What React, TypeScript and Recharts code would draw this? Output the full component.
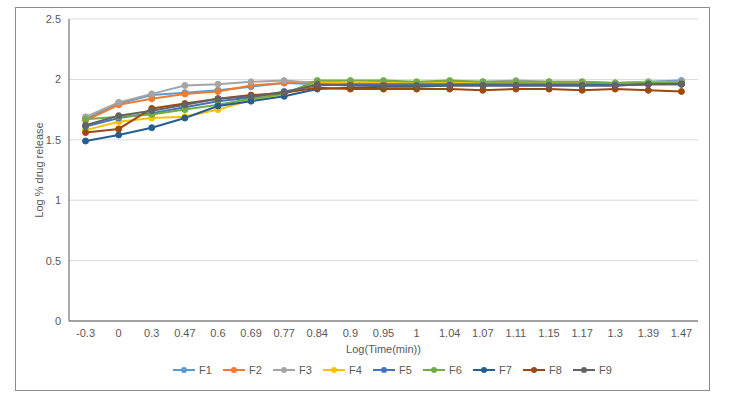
import React from "react";
import {
  LineChart,
  Line,
  XAxis,
  YAxis,
  CartesianGrid,
  Legend,
  Label,
} from "recharts";

const logTime = ["-0.3", "0", "0.3", "0.47", "0.6", "0.69", "0.77", "0.84", "0.9", "0.95", "1", "1.04", "1.07", "1.11", "1.15", "1.17", "1.3", "1.39", "1.47"];

const f1 = [1.67, 1.80, 1.87, 1.89, 1.91, 1.94, 1.97, 1.96, 1.96, 1.96, 1.96, 1.97, 1.97, 1.97, 1.97, 1.97, 1.97, 1.98, 1.99];
const f2 = [1.66, 1.79, 1.84, 1.88, 1.90, 1.95, 1.97, 1.98, 1.97, 1.97, 1.96, 1.97, 1.97, 1.97, 1.97, 1.97, 1.97, 1.97, 1.97];
const f3 = [1.69, 1.81, 1.88, 1.95, 1.96, 1.98, 1.99, 1.97, 1.97, 1.98, 1.97, 1.98, 1.98, 1.99, 1.98, 1.98, 1.97, 1.98, 1.98];
const f4 = [1.58, 1.65, 1.68, 1.69, 1.75, 1.83, 1.88, 1.98, 1.97, 1.97, 1.97, 1.97, 1.97, 1.97, 1.97, 1.97, 1.97, 1.97, 1.97];
const f5 = [1.61, 1.68, 1.72, 1.77, 1.82, 1.85, 1.90, 1.95, 1.96, 1.96, 1.96, 1.96, 1.96, 1.96, 1.96, 1.96, 1.96, 1.96, 1.97];
const f6 = [1.67, 1.69, 1.71, 1.75, 1.79, 1.84, 1.88, 1.99, 1.99, 1.99, 1.98, 1.99, 1.98, 1.98, 1.98, 1.98, 1.97, 1.97, 1.97];
const f7 = [1.49, 1.54, 1.60, 1.68, 1.78, 1.82, 1.86, 1.92, 1.93, 1.94, 1.94, 1.95, 1.95, 1.95, 1.95, 1.95, 1.95, 1.96, 1.96];
const f8 = [1.56, 1.59, 1.76, 1.80, 1.84, 1.87, 1.89, 1.93, 1.92, 1.92, 1.92, 1.92, 1.91, 1.92, 1.92, 1.91, 1.92, 1.91, 1.90];
const f9 = [1.62, 1.70, 1.74, 1.79, 1.84, 1.86, 1.89, 1.96, 1.95, 1.95, 1.95, 1.95, 1.95, 1.95, 1.95, 1.95, 1.95, 1.96, 1.96];

const yTicks = [0, 0.5, 1, 1.5, 2, 2.5];

const series = [
  { key: "F1", values: f1, color: "#5B9BD5" },
  { key: "F2", values: f2, color: "#ED7D31" },
  { key: "F3", values: f3, color: "#A5A5A5" },
  { key: "F4", values: f4, color: "#FFC000" },
  { key: "F5", values: f5, color: "#4472C4" },
  { key: "F6", values: f6, color: "#70AD47" },
  { key: "F7", values: f7, color: "#255E91" },
  { key: "F8", values: f8, color: "#9E480E" },
  { key: "F9", values: f9, color: "#636363" },
];

const data = logTime.map((t, i) => {
  const row: Record<string, string | number> = { t };
  series.forEach((s) => {
    row[s.key] = s.values[i];
  });
  return row;
});

const textColor = "#595959";
const font = "'Liberation Sans', Arial, sans-serif";

// excel-style legend: short line with a dot in the middle
const LegendContent = (props: any) => {
  const items = props.payload || [];
  return (
    <div style={{ display: "flex", justifyContent: "center", fontFamily: font, fontSize: 11, color: textColor }}>
      {items.map((it: any) => (
        <div key={it.value} style={{ display: "flex", alignItems: "center", width: 50 }}>
          <svg width={22} height={10} style={{ marginRight: 4 }}>
            <line x1={0} y1={5} x2={22} y2={5} stroke={it.color} strokeWidth={2} />
            <circle cx={11} cy={5} r={3} fill={it.color} />
          </svg>
          <span>{it.value}</span>
        </div>
      ))}
    </div>
  );
};

export default function App() {
  return (
    <div style={{ position: "absolute", left: 0, top: 0, width: 740, height: 399, background: "#fff" }}>
      {/* outer chart border */}
      <div
        style={{
          position: "absolute",
          left: 15,
          top: 7,
          width: 695,
          height: 384,
          border: "1px solid #8c8c8c",
          boxSizing: "border-box",
        }}
      />
      <LineChart
        width={740}
        height={399}
        data={data}
        margin={{ top: 19, right: 42, left: 39, bottom: 48 }}
        style={{ position: "absolute", left: 0, top: 0, fontFamily: font }}
      >
        <CartesianGrid vertical={false} stroke="#d9d9d9" />
        <XAxis
          dataKey="t"
          scale="band"
          height={30}
          tickLine={false}
          axisLine={{ stroke: "#595959" }}
          tick={{ fill: textColor, fontSize: 11 }}
          interval={0}
        >
          <Label value="Log(Time(min))" position="insideBottom" offset={-2} fill={textColor} fontSize={11} />
        </XAxis>
        <YAxis
          width={30}
          domain={[0, 2.5]}
          ticks={yTicks}
          tickLine={false}
          axisLine={{ stroke: "#595959" }}
          tick={{ fill: textColor, fontSize: 11 }}
        >
          <Label
            value="Log % drug release"
            angle={-90}
            position="insideLeft"
            offset={0}
            style={{ textAnchor: "middle" }}
            fill={textColor}
            fontSize={11}
          />
        </YAxis>
        <XAxis xAxisId="top" orientation="top" dataKey="t" scale="band" height={0} tick={false} tickLine={false} axisLine={{ stroke: "#595959" }} />
        <YAxis yAxisId="right" orientation="right" width={0} tick={false} tickLine={false} axisLine={{ stroke: "#595959" }} />
        <Legend
          verticalAlign="middle"
          align="center"
          content={<LegendContent />}
          wrapperStyle={{ top: 364, left: 28, width: 740 }}
        />
        {series.map((s) => (
          <Line
            key={s.key}
            dataKey={s.key}
            stroke={s.color}
            strokeWidth={2}
            dot={{ r: 3, fill: s.color, stroke: s.color, strokeWidth: 1 }}
            isAnimationActive={false}
          />
        ))}
      </LineChart>
    </div>
  );
}
